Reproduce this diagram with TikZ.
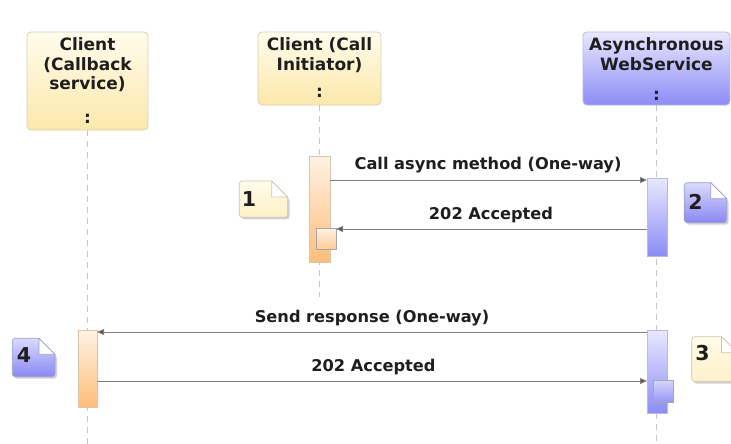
\documentclass[tikz,border=0pt]{standalone}
\usepackage{fontspec}
\setmainfont{DejaVu Sans}
\usetikzlibrary{arrows.meta,calc}
\definecolor{hyT}{HTML}{FFFCEC}
\definecolor{hyB}{HTML}{FCE8AA}
\definecolor{hyD}{HTML}{D9D0B8}
\definecolor{hbT}{HTML}{E8E8FF}
\definecolor{hbB}{HTML}{8C8CF6}
\definecolor{hbD}{HTML}{B8B8E0}
\definecolor{boT}{HTML}{FFF2E4}
\definecolor{boB}{HTML}{FFBD7A}
\definecolor{boD}{HTML}{D8C4AC}
\definecolor{lifec}{HTML}{C4C4C4}
\definecolor{msgc}{HTML}{808080}
\definecolor{tipc}{HTML}{505050}
\definecolor{txtc}{HTML}{1E1E1E}
\definecolor{nyT}{HTML}{FFFCEA}
\definecolor{nyB}{HTML}{FFF0C8}
\definecolor{nyD}{HTML}{CFC7AA}
\definecolor{nbT}{HTML}{DADAFF}
\definecolor{nbB}{HTML}{8888F2}
\definecolor{nbD}{HTML}{A0A0D0}
\newcommand{\drawnote}[5]{%
  \fill[black, opacity=0.18, rounded corners=3pt] (#1+2,#2+2) -- (#3-14,#2+2) -- (#3+2,#2+18) -- (#3+2,#4+2) -- (#1+2,#4+2) -- cycle;
  \path[#5, rounded corners=3pt] (#1,#2) [sharp corners] -- (#3-16,#2) -- (#3,#2+16) [rounded corners=3pt] -- (#3,#4) -- (#1,#4) -- cycle;
  \path[draw=#5D, line width=0.7pt, rounded corners=3pt] (#1,#2) [sharp corners] -- (#3-16,#2) -- (#3,#2+16) [rounded corners=3pt] -- (#3,#4) -- (#1,#4) -- cycle;
  \filldraw[fill=white, draw=#5D, line width=0.7pt, line join=round] (#3-16,#2) -- (#3-16,#2+16) -- (#3,#2+16) -- cycle;
}
\begin{document}
\begin{tikzpicture}[x=1pt,y=-1pt,
  hdr/.style={rounded corners=4pt, line width=0.8pt, inner sep=0pt, outer sep=0pt},
  hdrY/.style={hdr, draw=hyD, top color=hyT, bottom color=hyB},
  hdrB/.style={hdr, draw=hbD, top color=hbT, bottom color=hbB},
  htext/.style={font=\fontsize{17}{19.5}\selectfont\bfseries, text=txtc, align=center, inner sep=0pt, anchor=north},
  colon/.style={font=\fontsize{17}{19.5}\selectfont\bfseries, text=txtc, inner sep=0pt, anchor=base},
  life/.style={draw=lifec, line width=1pt, dash pattern=on 6pt off 5pt},
  bar/.style={line width=0.7pt, inner sep=0pt, outer sep=0pt},
  barO/.style={bar, draw=boD, top color=boT, bottom color=boB},
  barB/.style={bar, draw=hbD, top color=hbT, bottom color=hbB},
  subO/.style={bar, draw=black!35, top color=boT, bottom color=boB!80},
  subB/.style={bar, draw=black!35, top color=hbT!80!hbB, bottom color=hbB!90},
  msg/.style={draw=msgc, line width=0.9pt, -{Triangle[length=7pt,width=6pt,fill=tipc]}},
  mlabel/.style={font=\fontsize{16.2}{18}\selectfont\bfseries, text=txtc, inner sep=0pt, anchor=base},
  num/.style={font=\fontsize{20.5}{22}\selectfont\bfseries, text=txtc, inner sep=0pt, anchor=base},
  ny/.style={top color=nyT, bottom color=nyB},
  nb/.style={top color=nbT, bottom color=nbB},
]
\clip (0,0) rectangle (731,444);
\fill[white] (0,0) rectangle (731,444);

% header boxes
\node[hdrY, minimum width=121pt, minimum height=98pt] (cb) at (87.5,81) {};
\node[hdrY, minimum width=123pt, minimum height=73pt] (ci) at (319.5,68.5) {};
\node[hdrB, minimum width=147pt, minimum height=73pt] (ws) at (656.5,68.5) {};

\node[htext] (cbt) at (87.5,37.8) {Client\\(Callback\\service)};
\node[colon] (cbc) at (87.5,123) {:};
\node[htext] (cit) at (319.5,37.8) {Client (Call\\Initiator)};
\node[colon] (cic) at (319.5,98) {:};
\node[htext] (wst) at (656.5,37.8) {Asynchronous\\WebService};
\node[colon] (wsc) at (656.5,100) {:};

% lifelines
\coordinate (cbEnd) at (87.5,444);
\coordinate (ciEnd) at (319.5,297);
\coordinate (wsEnd) at (656.5,444);
\draw[life] (cb.south) -- (cbEnd);
\draw[life] (ci.south) -- (ciEnd);
\draw[life] (ws.south) -- (wsEnd);

% activation bars
\node[barO, minimum width=21pt, minimum height=106pt] (b1) at (319.5,209) {};
\node[subO, minimum width=20pt, minimum height=21pt] (b1s) at (326,238.5) {};
\node[barB, minimum width=20pt, minimum height=78pt] (b2) at (657,217) {};
\node[barO, minimum width=19pt, minimum height=77pt] (b3) at (87.5,368.5) {};
\node[barB, minimum width=20pt, minimum height=83pt] (b4) at (657,371.5) {};
\node[subB, minimum width=20pt, minimum height=22pt] (b4s) at (663,391) {};

% messages
\draw[msg] (b1.east |- 0,180) -- (b2.west |- 0,180);
\draw[msg] (b2.west |- 0,229) -- (b1s.east |- 0,229);
\draw[msg] (b4.west |- 0,332) -- (b3.east |- 0,332);
\draw[msg] (b3.east |- 0,381) -- (b4.west |- 0,381);

\node[mlabel] (m1) at (488,169) {Call async method (One-way)};
\node[mlabel] (m2) at (491,219) {202 Accepted};
\node[mlabel] (m3) at (372,322) {Send response (One-way)};
\node[mlabel] (m4) at (373.5,371.5) {202 Accepted};

% notes
\drawnote{239.3}{181}{287.7}{217.3}{ny}
\drawnote{684.3}{182.7}{726.7}{222.7}{nb}
\drawnote{691.7}{336.7}{737.5}{381.7}{ny}
\drawnote{12.3}{338.3}{55}{376.7}{nb}
\node[num] (n1) at (249,206.7) {1};
\node[num] (n2) at (695.5,209) {2};
\node[num] (n3) at (702.5,360) {3};
\node[num] (n4) at (24,362.7) {4};
\end{tikzpicture}
\end{document}
